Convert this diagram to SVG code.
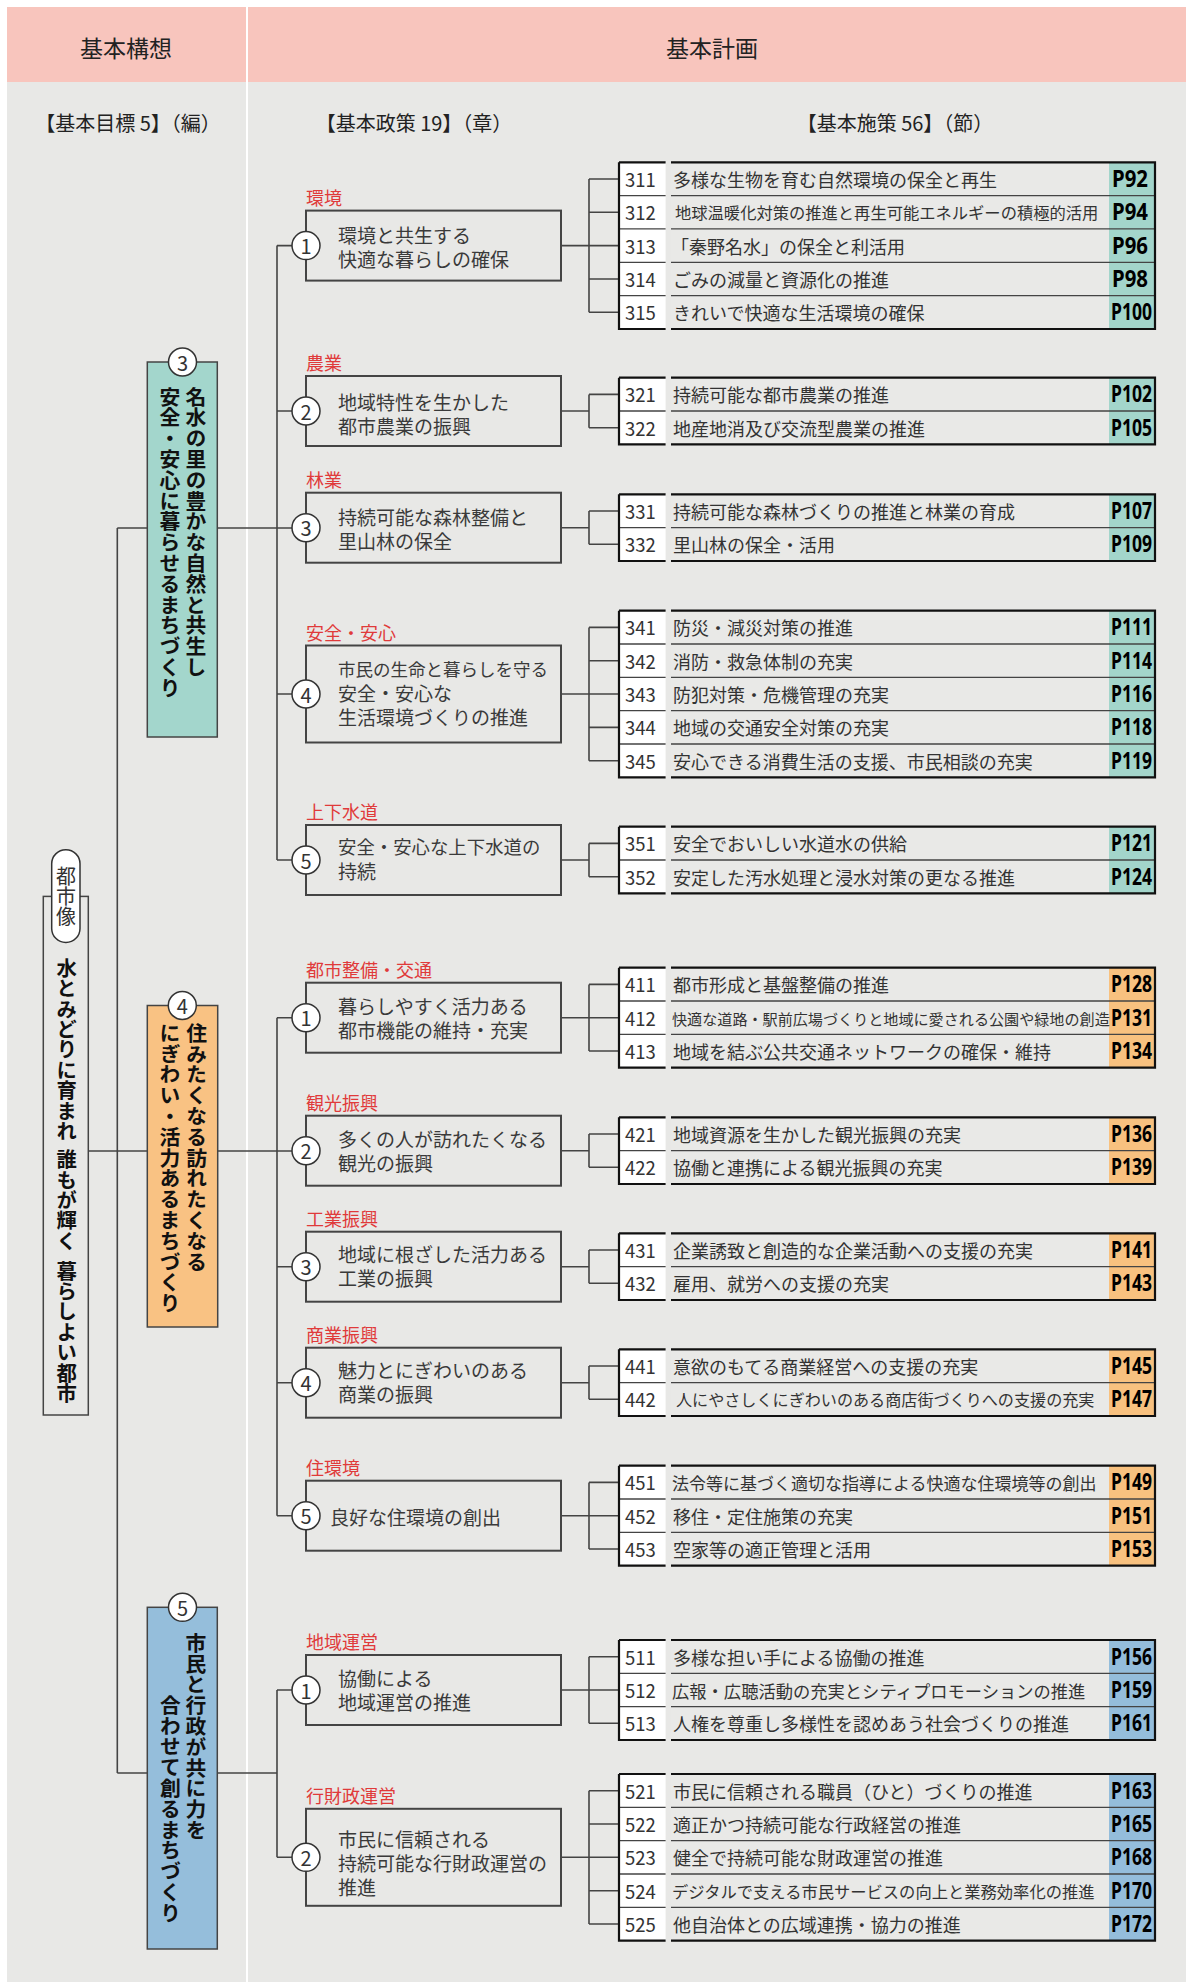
<svg xmlns="http://www.w3.org/2000/svg" width="1192" height="1982" viewBox="0 0 1192 1982">
<style>
text{font-family:'Noto Sans CJK JP','Noto Sans',sans-serif}
.hd{font-size:23px;fill:#222;text-anchor:middle;dominant-baseline:central}
.sh{font-size:20px;fill:#222;text-anchor:middle;dominant-baseline:central}
.ln{fill:none;stroke:#444;stroke-width:1.6}
.pb{fill:none;stroke:#444;stroke-width:2}
.ci{fill:#fff;stroke:#333;stroke-width:1.5}
.cn{font-size:20px;fill:#333;text-anchor:middle;dominant-baseline:central}
.cat{font-size:18px;fill:#e03a3a;dominant-baseline:central}
.pt{font-size:19px;fill:#3a3a3a;dominant-baseline:central}
.gb{stroke:#444;stroke-width:1.5}
.vt{writing-mode:vertical-rl;font-weight:bold;font-size:20.8px;fill:#111}
.nc{fill:#fff}
.tc{fill:#e9e9e7}
.pc3{fill:#a3d5cb}.pc4{fill:#f8c17f}.pc5{fill:#94bddb}
.n{font-size:18.5px;fill:#333;dominant-baseline:central}
.t{font-size:18px;fill:#333;dominant-baseline:central}
.p{font-family:'Noto Sans','DejaVu Sans',sans-serif;font-weight:bold;font-size:23px;fill:#000}
.sep{fill:none;stroke:#444;stroke-width:1.3}
.fr{fill:none;stroke:#111;stroke-width:2.2}
</style>
<rect x="0" y="0" width="1192" height="1982" fill="#fff"/>
<g id="background">
<rect x="7" y="7" width="239" height="75" fill="#f8c5bd"/>
<rect x="248" y="7" width="938" height="75" fill="#f8c5bd"/>
<rect x="7" y="82" width="239" height="1900" fill="#e8e8e6"/>
<rect x="248" y="82" width="938" height="1900" fill="#e8e8e6"/>
<text class="hd" x="126" y="47">基本構想</text>
<text class="hd" x="712" y="47">基本計画</text>
<text class="sh" x="128" y="122">【基本目標 5】（編）</text>
<text class="sh" x="414" y="122">【基本政策 19】（章）</text>
<text class="sh" x="895" y="122">【基本施策 56】（節）</text>
</g>
<g id="connectors" class="ln">
<path d="M117.3 528V1773M117.3 528H147.3M88.3 1151H147.3M117.3 1773H147.3M217.3 528H306M217.3 1151H306M217.3 1773H277"/>
<path d="M277 245.6V860M277 245.6H306M277 411H306M277 694H306M277 860H306"/>
<path d="M277 1017.7V1515.7M277 1017.7H306M277 1266.7H306M277 1382.7H306M277 1515.7H306"/>
<path d="M277 1690V1857.3M277 1690H306M277 1857.3H306"/>
<path d="M561 245.6H589M589 179V312.3M589 179H619M589 212.3H619M589 245.6H619M589 279H619M589 312.3H619"/>
<path d="M561 411H589M589 394.4V427.7M589 394.4H619M589 427.7H619"/>
<path d="M561 527.7H589M589 511V544.3M589 511H619M589 544.3H619"/>
<path d="M561 694H589M589 627.4V760.7M589 627.4H619M589 660.7H619M589 694H619M589 727.4H619M589 760.7H619"/>
<path d="M561 860H589M589 843.4V876.7M589 843.4H619M589 876.7H619"/>
<path d="M561 1017.7H589M589 984.4V1051M589 984.4H619M589 1017.7H619M589 1051H619"/>
<path d="M561 1150.7H589M589 1134V1167.3M589 1134H619M589 1167.3H619"/>
<path d="M561 1266.7H589M589 1250V1283.3M589 1250H619M589 1283.3H619"/>
<path d="M561 1382.7H589M589 1366V1399.3M589 1366H619M589 1399.3H619"/>
<path d="M561 1515.7H589M589 1482.4V1549M589 1482.4H619M589 1515.7H619M589 1549H619"/>
<path d="M561 1690H589M589 1656.7V1723.3M589 1656.7H619M589 1690H619M589 1723.3H619"/>
<path d="M561 1857.3H589M589 1790.7V1924M589 1790.7H619M589 1824H619M589 1857.3H619M589 1890.7H619M589 1924H619"/>
</g>
<g id="vision">
<rect x="43.3" y="896.4" width="45" height="518.6" fill="none" class="gb"/>
<rect x="51.7" y="849.8" width="28.3" height="92.6" rx="14" fill="#fff" stroke="#333" stroke-width="1.5"/>
<text x="65.9" y="866.5" style="writing-mode:vertical-rl;font-size:20px;fill:#333">都市像</text>
<text class="vt" style="font-size:20.4px"><tspan x="66.7" y="957.8">水とみどりに育まれ </tspan><tspan x="66.7" y="1149.5">誰もが輝く </tspan><tspan x="66.7" y="1260.5">暮らしよい都市</tspan></text>
</g>
<g id="goal3">
<rect x="147.3" y="362" width="70" height="375" fill="#a3d6cc" class="gb"/>
<ellipse class="ci" cx="182.5" cy="362" rx="14" ry="14"/>
<text class="cn" x="182.5" y="362">3</text>
<text class="vt" x="196" y="386.3">名水の里の豊かな自然と共生し</text>
<text class="vt" x="170" y="386.3">安全・安心に暮らせるまちづくり</text>
</g>
<g id="goal4">
<rect x="147.3" y="1005.5" width="70.4" height="321.5" fill="#f9c283" class="gb"/>
<ellipse class="ci" cx="182.3" cy="1005.5" rx="14" ry="14"/>
<text class="cn" x="182.3" y="1005.5">4</text>
<text class="vt" x="196.7" y="1022.6">住みたくなる訪れたくなる</text>
<text class="vt" x="170" y="1022.6">にぎわい・活力あるまちづくり</text>
</g>
<g id="goal5">
<rect x="147.3" y="1607.3" width="70" height="341.7" fill="#95bedb" class="gb"/>
<ellipse class="ci" cx="182.5" cy="1607.3" rx="14" ry="14"/>
<text class="cn" x="182.5" y="1607.3">5</text>
<text class="vt" x="196" y="1632.6">市民と行政が共に力を</text>
<text class="vt" x="170.3" y="1694.6">合わせて創るまちづくり</text>
</g>
<g id="p31"><text class="cat" x="306" y="196.6">環境</text><rect class="pb" x="306" y="210.6" width="255" height="70"/><circle class="ci" cx="306" cy="245.6" r="14"/><text class="cn" x="306" y="245.6">1</text><text class="pt" x="338" y="234.5">環境と共生する</text><text class="pt" x="338" y="258.5">快適な暮らしの確保</text></g>
<g id="p32"><text class="cat" x="306" y="362">農業</text><rect class="pb" x="306" y="376" width="255" height="70"/><circle class="ci" cx="306" cy="411" r="14"/><text class="cn" x="306" y="411">2</text><text class="pt" x="338" y="401">地域特性を生かした</text><text class="pt" x="338" y="425">都市農業の振興</text></g>
<g id="p33"><text class="cat" x="306" y="478.7">林業</text><rect class="pb" x="306" y="492.7" width="255" height="70"/><circle class="ci" cx="306" cy="527.7" r="14"/><text class="cn" x="306" y="527.7">3</text><text class="pt" x="338" y="516">持続可能な森林整備と</text><text class="pt" x="338" y="540">里山林の保全</text></g>
<g id="p34"><text class="cat" x="306" y="631.5">安全・安心</text><rect class="pb" x="306" y="645.5" width="255" height="97"/><circle class="ci" cx="306" cy="694" r="14"/><text class="cn" x="306" y="694">4</text><text class="pt" x="338" y="668" style="font-size:17.5px">市民の生命と暮らしを守る</text><text class="pt" x="338" y="692">安全・安心な</text><text class="pt" x="338" y="716">生活環境づくりの推進</text></g>
<g id="p35"><text class="cat" x="306" y="811">上下水道</text><rect class="pb" x="306" y="825" width="255" height="70"/><circle class="ci" cx="306" cy="860" r="14"/><text class="cn" x="306" y="860">5</text><text class="pt" x="338" y="846" style="font-size:18.4px">安全・安心な上下水道の</text><text class="pt" x="338" y="870">持続</text></g>
<g id="p41"><text class="cat" x="306" y="968.7">都市整備・交通</text><rect class="pb" x="306" y="982.7" width="255" height="70"/><circle class="ci" cx="306" cy="1017.7" r="14"/><text class="cn" x="306" y="1017.7">1</text><text class="pt" x="338" y="1005.7">暮らしやすく活力ある</text><text class="pt" x="338" y="1029.7">都市機能の維持・充実</text></g>
<g id="p42"><text class="cat" x="306" y="1101.7">観光振興</text><rect class="pb" x="306" y="1115.7" width="255" height="70"/><circle class="ci" cx="306" cy="1150.7" r="14"/><text class="cn" x="306" y="1150.7">2</text><text class="pt" x="338" y="1138">多くの人が訪れたくなる</text><text class="pt" x="338" y="1162">観光の振興</text></g>
<g id="p43"><text class="cat" x="306" y="1217.7">工業振興</text><rect class="pb" x="306" y="1231.7" width="255" height="70"/><circle class="ci" cx="306" cy="1266.7" r="14"/><text class="cn" x="306" y="1266.7">3</text><text class="pt" x="338" y="1253.5">地域に根ざした活力ある</text><text class="pt" x="338" y="1277.5">工業の振興</text></g>
<g id="p44"><text class="cat" x="306" y="1333.7">商業振興</text><rect class="pb" x="306" y="1347.7" width="255" height="70"/><circle class="ci" cx="306" cy="1382.7" r="14"/><text class="cn" x="306" y="1382.7">4</text><text class="pt" x="338" y="1369">魅力とにぎわいのある</text><text class="pt" x="338" y="1393">商業の振興</text></g>
<g id="p45"><text class="cat" x="306" y="1466.7">住環境</text><rect class="pb" x="306" y="1480.7" width="255" height="70"/><circle class="ci" cx="306" cy="1515.7" r="14"/><text class="cn" x="306" y="1515.7">5</text><text class="pt" x="330" y="1516">良好な住環境の創出</text></g>
<g id="p51"><text class="cat" x="306" y="1641">地域運営</text><rect class="pb" x="306" y="1655" width="255" height="70"/><circle class="ci" cx="306" cy="1690" r="14"/><text class="cn" x="306" y="1690">1</text><text class="pt" x="338" y="1677.7">協働による</text><text class="pt" x="338" y="1701.7">地域運営の推進</text></g>
<g id="p52"><text class="cat" x="306" y="1794.8">行財政運営</text><rect class="pb" x="306" y="1808.8" width="255" height="97"/><circle class="ci" cx="306" cy="1857.3" r="14"/><text class="cn" x="306" y="1857.3">2</text><text class="pt" x="338" y="1838">市民に信頼される</text><text class="pt" x="338" y="1862">持続可能な行財政運営の</text><text class="pt" x="338" y="1886">推進</text></g>

<g id="t31">
<g id="s311"><rect class="nc" x="619" y="162.3" width="46.6" height="33.4"/><rect class="tc" x="671" y="162.3" width="438" height="33.4"/><rect class="pc3" x="1109" y="162.3" width="46" height="33.4"/><text class="n" x="625" y="179">311</text><text class="t" x="673" y="179">多様な生物を育む自然環境の保全と再生</text><text class="p" x="1112" y="187" textLength="36" lengthAdjust="spacingAndGlyphs">P92</text></g>
<g id="s312"><rect class="nc" x="619" y="195.6" width="46.6" height="33.4"/><rect class="tc" x="671" y="195.6" width="438" height="33.4"/><rect class="pc3" x="1109" y="195.6" width="46" height="33.4"/><path class="sep" d="M619 195.6H665.6M671 195.6H1155"/><text class="n" x="625" y="212.3">312</text><text class="t" x="675" y="212.3" style="font-size:16.3px">地球温暖化対策の推進と再生可能エネルギーの積極的活用</text><text class="p" x="1112" y="220.3" textLength="36" lengthAdjust="spacingAndGlyphs">P94</text></g>
<g id="s313"><rect class="nc" x="619" y="228.9" width="46.6" height="33.4"/><rect class="tc" x="671" y="228.9" width="438" height="33.4"/><rect class="pc3" x="1109" y="228.9" width="46" height="33.4"/><path class="sep" d="M619 228.9H665.6M671 228.9H1155"/><text class="n" x="625" y="245.6">313</text><text class="t" x="671" y="245.6">「秦野名水」の保全と利活用</text><text class="p" x="1112" y="253.6" textLength="36" lengthAdjust="spacingAndGlyphs">P96</text></g>
<g id="s314"><rect class="nc" x="619" y="262.3" width="46.6" height="33.4"/><rect class="tc" x="671" y="262.3" width="438" height="33.4"/><rect class="pc3" x="1109" y="262.3" width="46" height="33.4"/><path class="sep" d="M619 262.3H665.6M671 262.3H1155"/><text class="n" x="625" y="279">314</text><text class="t" x="673" y="279">ごみの減量と資源化の推進</text><text class="p" x="1112" y="287" textLength="36" lengthAdjust="spacingAndGlyphs">P98</text></g>
<g id="s315"><rect class="nc" x="619" y="295.6" width="46.6" height="33.4"/><rect class="tc" x="671" y="295.6" width="438" height="33.4"/><rect class="pc3" x="1109" y="295.6" width="46" height="33.4"/><path class="sep" d="M619 295.6H665.6M671 295.6H1155"/><text class="n" x="625" y="312.3">315</text><text class="t" x="673" y="312.3">きれいで快適な生活環境の確保</text><text class="p" x="1111" y="320.3" textLength="41" lengthAdjust="spacingAndGlyphs">P100</text></g>
<path class="fr" d="M619 162.3H665.6M671 162.3H1155V329H671M665.6 329H619V162.3"/>
</g>

<g id="t32">
<g id="s321"><rect class="nc" x="619" y="377.7" width="46.6" height="33.4"/><rect class="tc" x="671" y="377.7" width="438" height="33.4"/><rect class="pc3" x="1109" y="377.7" width="46" height="33.4"/><text class="n" x="625" y="394.4">321</text><text class="t" x="673" y="394.4">持続可能な都市農業の推進</text><text class="p" x="1111" y="402.4" textLength="41" lengthAdjust="spacingAndGlyphs">P102</text></g>
<g id="s322"><rect class="nc" x="619" y="411" width="46.6" height="33.4"/><rect class="tc" x="671" y="411" width="438" height="33.4"/><rect class="pc3" x="1109" y="411" width="46" height="33.4"/><path class="sep" d="M619 411H665.6M671 411H1155"/><text class="n" x="625" y="427.7">322</text><text class="t" x="673" y="427.7">地産地消及び交流型農業の推進</text><text class="p" x="1111" y="435.7" textLength="41" lengthAdjust="spacingAndGlyphs">P105</text></g>
<path class="fr" d="M619 377.7H665.6M671 377.7H1155V444.3H671M665.6 444.3H619V377.7"/>
</g>

<g id="t33">
<g id="s331"><rect class="nc" x="619" y="494.3" width="46.6" height="33.4"/><rect class="tc" x="671" y="494.3" width="438" height="33.4"/><rect class="pc3" x="1109" y="494.3" width="46" height="33.4"/><text class="n" x="625" y="511">331</text><text class="t" x="673" y="511">持続可能な森林づくりの推進と林業の育成</text><text class="p" x="1111" y="519" textLength="41" lengthAdjust="spacingAndGlyphs">P107</text></g>
<g id="s332"><rect class="nc" x="619" y="527.6" width="46.6" height="33.4"/><rect class="tc" x="671" y="527.6" width="438" height="33.4"/><rect class="pc3" x="1109" y="527.6" width="46" height="33.4"/><path class="sep" d="M619 527.6H665.6M671 527.6H1155"/><text class="n" x="625" y="544.3">332</text><text class="t" x="673" y="544.3">里山林の保全・活用</text><text class="p" x="1111" y="552.3" textLength="41" lengthAdjust="spacingAndGlyphs">P109</text></g>
<path class="fr" d="M619 494.3H665.6M671 494.3H1155V561H671M665.6 561H619V494.3"/>
</g>

<g id="t34">
<g id="s341"><rect class="nc" x="619" y="610.7" width="46.6" height="33.4"/><rect class="tc" x="671" y="610.7" width="438" height="33.4"/><rect class="pc3" x="1109" y="610.7" width="46" height="33.4"/><text class="n" x="625" y="627.4">341</text><text class="t" x="673" y="627.4">防災・減災対策の推進</text><text class="p" x="1111" y="635.4" textLength="41" lengthAdjust="spacingAndGlyphs">P111</text></g>
<g id="s342"><rect class="nc" x="619" y="644" width="46.6" height="33.4"/><rect class="tc" x="671" y="644" width="438" height="33.4"/><rect class="pc3" x="1109" y="644" width="46" height="33.4"/><path class="sep" d="M619 644H665.6M671 644H1155"/><text class="n" x="625" y="660.7">342</text><text class="t" x="673" y="660.7">消防・救急体制の充実</text><text class="p" x="1111" y="668.7" textLength="41" lengthAdjust="spacingAndGlyphs">P114</text></g>
<g id="s343"><rect class="nc" x="619" y="677.3" width="46.6" height="33.4"/><rect class="tc" x="671" y="677.3" width="438" height="33.4"/><rect class="pc3" x="1109" y="677.3" width="46" height="33.4"/><path class="sep" d="M619 677.3H665.6M671 677.3H1155"/><text class="n" x="625" y="694">343</text><text class="t" x="673" y="694">防犯対策・危機管理の充実</text><text class="p" x="1111" y="702" textLength="41" lengthAdjust="spacingAndGlyphs">P116</text></g>
<g id="s344"><rect class="nc" x="619" y="710.7" width="46.6" height="33.4"/><rect class="tc" x="671" y="710.7" width="438" height="33.4"/><rect class="pc3" x="1109" y="710.7" width="46" height="33.4"/><path class="sep" d="M619 710.7H665.6M671 710.7H1155"/><text class="n" x="625" y="727.4">344</text><text class="t" x="673" y="727.4">地域の交通安全対策の充実</text><text class="p" x="1111" y="735.4" textLength="41" lengthAdjust="spacingAndGlyphs">P118</text></g>
<g id="s345"><rect class="nc" x="619" y="744" width="46.6" height="33.4"/><rect class="tc" x="671" y="744" width="438" height="33.4"/><rect class="pc3" x="1109" y="744" width="46" height="33.4"/><path class="sep" d="M619 744H665.6M671 744H1155"/><text class="n" x="625" y="760.7">345</text><text class="t" x="673" y="760.7">安心できる消費生活の支援、市民相談の充実</text><text class="p" x="1111" y="768.7" textLength="41" lengthAdjust="spacingAndGlyphs">P119</text></g>
<path class="fr" d="M619 610.7H665.6M671 610.7H1155V777.3H671M665.6 777.3H619V610.7"/>
</g>

<g id="t35">
<g id="s351"><rect class="nc" x="619" y="826.7" width="46.6" height="33.4"/><rect class="tc" x="671" y="826.7" width="438" height="33.4"/><rect class="pc3" x="1109" y="826.7" width="46" height="33.4"/><text class="n" x="625" y="843.4">351</text><text class="t" x="673" y="843.4">安全でおいしい水道水の供給</text><text class="p" x="1111" y="851.4" textLength="41" lengthAdjust="spacingAndGlyphs">P121</text></g>
<g id="s352"><rect class="nc" x="619" y="860" width="46.6" height="33.4"/><rect class="tc" x="671" y="860" width="438" height="33.4"/><rect class="pc3" x="1109" y="860" width="46" height="33.4"/><path class="sep" d="M619 860H665.6M671 860H1155"/><text class="n" x="625" y="876.7">352</text><text class="t" x="673" y="876.7">安定した汚水処理と浸水対策の更なる推進</text><text class="p" x="1111" y="884.7" textLength="41" lengthAdjust="spacingAndGlyphs">P124</text></g>
<path class="fr" d="M619 826.7H665.6M671 826.7H1155V893.3H671M665.6 893.3H619V826.7"/>
</g>

<g id="t41">
<g id="s411"><rect class="nc" x="619" y="967.7" width="46.6" height="33.4"/><rect class="tc" x="671" y="967.7" width="438" height="33.4"/><rect class="pc4" x="1109" y="967.7" width="46" height="33.4"/><text class="n" x="625" y="984.4">411</text><text class="t" x="673" y="984.4">都市形成と基盤整備の推進</text><text class="p" x="1111" y="992.4" textLength="41" lengthAdjust="spacingAndGlyphs">P128</text></g>
<g id="s412"><rect class="nc" x="619" y="1001" width="46.6" height="33.4"/><rect class="tc" x="671" y="1001" width="438" height="33.4"/><rect class="pc4" x="1109" y="1001" width="46" height="33.4"/><path class="sep" d="M619 1001H665.6M671 1001H1155"/><text class="n" x="625" y="1017.7">412</text><text class="t" x="672" y="1017.7" style="font-size:15.1px">快適な道路・駅前広場づくりと地域に愛される公園や緑地の創造</text><text class="p" x="1111" y="1025.7" textLength="41" lengthAdjust="spacingAndGlyphs">P131</text></g>
<g id="s413"><rect class="nc" x="619" y="1034.3" width="46.6" height="33.4"/><rect class="tc" x="671" y="1034.3" width="438" height="33.4"/><rect class="pc4" x="1109" y="1034.3" width="46" height="33.4"/><path class="sep" d="M619 1034.3H665.6M671 1034.3H1155"/><text class="n" x="625" y="1051">413</text><text class="t" x="673" y="1051">地域を結ぶ公共交通ネットワークの確保・維持</text><text class="p" x="1111" y="1059" textLength="41" lengthAdjust="spacingAndGlyphs">P134</text></g>
<path class="fr" d="M619 967.7H665.6M671 967.7H1155V1067.7H671M665.6 1067.7H619V967.7"/>
</g>

<g id="t42">
<g id="s421"><rect class="nc" x="619" y="1117.3" width="46.6" height="33.4"/><rect class="tc" x="671" y="1117.3" width="438" height="33.4"/><rect class="pc4" x="1109" y="1117.3" width="46" height="33.4"/><text class="n" x="625" y="1134">421</text><text class="t" x="673" y="1134">地域資源を生かした観光振興の充実</text><text class="p" x="1111" y="1142" textLength="41" lengthAdjust="spacingAndGlyphs">P136</text></g>
<g id="s422"><rect class="nc" x="619" y="1150.6" width="46.6" height="33.4"/><rect class="tc" x="671" y="1150.6" width="438" height="33.4"/><rect class="pc4" x="1109" y="1150.6" width="46" height="33.4"/><path class="sep" d="M619 1150.6H665.6M671 1150.6H1155"/><text class="n" x="625" y="1167.3">422</text><text class="t" x="673" y="1167.3">協働と連携による観光振興の充実</text><text class="p" x="1111" y="1175.3" textLength="41" lengthAdjust="spacingAndGlyphs">P139</text></g>
<path class="fr" d="M619 1117.3H665.6M671 1117.3H1155V1184H671M665.6 1184H619V1117.3"/>
</g>

<g id="t43">
<g id="s431"><rect class="nc" x="619" y="1233.3" width="46.6" height="33.4"/><rect class="tc" x="671" y="1233.3" width="438" height="33.4"/><rect class="pc4" x="1109" y="1233.3" width="46" height="33.4"/><text class="n" x="625" y="1250">431</text><text class="t" x="673" y="1250">企業誘致と創造的な企業活動への支援の充実</text><text class="p" x="1111" y="1258" textLength="41" lengthAdjust="spacingAndGlyphs">P141</text></g>
<g id="s432"><rect class="nc" x="619" y="1266.6" width="46.6" height="33.4"/><rect class="tc" x="671" y="1266.6" width="438" height="33.4"/><rect class="pc4" x="1109" y="1266.6" width="46" height="33.4"/><path class="sep" d="M619 1266.6H665.6M671 1266.6H1155"/><text class="n" x="625" y="1283.3">432</text><text class="t" x="673" y="1283.3">雇用、就労への支援の充実</text><text class="p" x="1111" y="1291.3" textLength="41" lengthAdjust="spacingAndGlyphs">P143</text></g>
<path class="fr" d="M619 1233.3H665.6M671 1233.3H1155V1300H671M665.6 1300H619V1233.3"/>
</g>

<g id="t44">
<g id="s441"><rect class="nc" x="619" y="1349.3" width="46.6" height="33.4"/><rect class="tc" x="671" y="1349.3" width="438" height="33.4"/><rect class="pc4" x="1109" y="1349.3" width="46" height="33.4"/><text class="n" x="625" y="1366">441</text><text class="t" x="673" y="1366">意欲のもてる商業経営への支援の充実</text><text class="p" x="1111" y="1374" textLength="41" lengthAdjust="spacingAndGlyphs">P145</text></g>
<g id="s442"><rect class="nc" x="619" y="1382.6" width="46.6" height="33.4"/><rect class="tc" x="671" y="1382.6" width="438" height="33.4"/><rect class="pc4" x="1109" y="1382.6" width="46" height="33.4"/><path class="sep" d="M619 1382.6H665.6M671 1382.6H1155"/><text class="n" x="625" y="1399.3">442</text><text class="t" x="676" y="1399.3" style="font-size:16.1px">人にやさしくにぎわいのある商店街づくりへの支援の充実</text><text class="p" x="1111" y="1407.3" textLength="41" lengthAdjust="spacingAndGlyphs">P147</text></g>
<path class="fr" d="M619 1349.3H665.6M671 1349.3H1155V1416H671M665.6 1416H619V1349.3"/>
</g>

<g id="t45">
<g id="s451"><rect class="nc" x="619" y="1465.7" width="46.6" height="33.4"/><rect class="tc" x="671" y="1465.7" width="438" height="33.4"/><rect class="pc4" x="1109" y="1465.7" width="46" height="33.4"/><text class="n" x="625" y="1482.4">451</text><text class="t" x="672" y="1482.4" style="font-size:17px">法令等に基づく適切な指導による快適な住環境等の創出</text><text class="p" x="1111" y="1490.4" textLength="41" lengthAdjust="spacingAndGlyphs">P149</text></g>
<g id="s452"><rect class="nc" x="619" y="1499" width="46.6" height="33.4"/><rect class="tc" x="671" y="1499" width="438" height="33.4"/><rect class="pc4" x="1109" y="1499" width="46" height="33.4"/><path class="sep" d="M619 1499H665.6M671 1499H1155"/><text class="n" x="625" y="1515.7">452</text><text class="t" x="673" y="1515.7">移住・定住施策の充実</text><text class="p" x="1111" y="1523.7" textLength="41" lengthAdjust="spacingAndGlyphs">P151</text></g>
<g id="s453"><rect class="nc" x="619" y="1532.3" width="46.6" height="33.4"/><rect class="tc" x="671" y="1532.3" width="438" height="33.4"/><rect class="pc4" x="1109" y="1532.3" width="46" height="33.4"/><path class="sep" d="M619 1532.3H665.6M671 1532.3H1155"/><text class="n" x="625" y="1549">453</text><text class="t" x="673" y="1549">空家等の適正管理と活用</text><text class="p" x="1111" y="1557" textLength="41" lengthAdjust="spacingAndGlyphs">P153</text></g>
<path class="fr" d="M619 1465.7H665.6M671 1465.7H1155V1565.7H671M665.6 1565.7H619V1465.7"/>
</g>

<g id="t51">
<g id="s511"><rect class="nc" x="619" y="1640" width="46.6" height="33.4"/><rect class="tc" x="671" y="1640" width="438" height="33.4"/><rect class="pc5" x="1109" y="1640" width="46" height="33.4"/><text class="n" x="625" y="1656.7">511</text><text class="t" x="673" y="1656.7">多様な担い手による協働の推進</text><text class="p" x="1111" y="1664.7" textLength="41" lengthAdjust="spacingAndGlyphs">P156</text></g>
<g id="s512"><rect class="nc" x="619" y="1673.3" width="46.6" height="33.4"/><rect class="tc" x="671" y="1673.3" width="438" height="33.4"/><rect class="pc5" x="1109" y="1673.3" width="46" height="33.4"/><path class="sep" d="M619 1673.3H665.6M671 1673.3H1155"/><text class="n" x="625" y="1690">512</text><text class="t" x="672" y="1690" style="font-size:17.3px">広報・広聴活動の充実とシティプロモーションの推進</text><text class="p" x="1111" y="1698" textLength="41" lengthAdjust="spacingAndGlyphs">P159</text></g>
<g id="s513"><rect class="nc" x="619" y="1706.6" width="46.6" height="33.4"/><rect class="tc" x="671" y="1706.6" width="438" height="33.4"/><rect class="pc5" x="1109" y="1706.6" width="46" height="33.4"/><path class="sep" d="M619 1706.6H665.6M671 1706.6H1155"/><text class="n" x="625" y="1723.3">513</text><text class="t" x="673" y="1723.3">人権を尊重し多様性を認めあう社会づくりの推進</text><text class="p" x="1111" y="1731.3" textLength="41" lengthAdjust="spacingAndGlyphs">P161</text></g>
<path class="fr" d="M619 1640H665.6M671 1640H1155V1740H671M665.6 1740H619V1640"/>
</g>

<g id="t52">
<g id="s521"><rect class="nc" x="619" y="1774" width="46.6" height="33.4"/><rect class="tc" x="671" y="1774" width="438" height="33.4"/><rect class="pc5" x="1109" y="1774" width="46" height="33.4"/><text class="n" x="625" y="1790.7">521</text><text class="t" x="673" y="1790.7">市民に信頼される職員（ひと）づくりの推進</text><text class="p" x="1111" y="1798.7" textLength="41" lengthAdjust="spacingAndGlyphs">P163</text></g>
<g id="s522"><rect class="nc" x="619" y="1807.3" width="46.6" height="33.4"/><rect class="tc" x="671" y="1807.3" width="438" height="33.4"/><rect class="pc5" x="1109" y="1807.3" width="46" height="33.4"/><path class="sep" d="M619 1807.3H665.6M671 1807.3H1155"/><text class="n" x="625" y="1824">522</text><text class="t" x="673" y="1824">適正かつ持続可能な行政経営の推進</text><text class="p" x="1111" y="1832" textLength="41" lengthAdjust="spacingAndGlyphs">P165</text></g>
<g id="s523"><rect class="nc" x="619" y="1840.6" width="46.6" height="33.4"/><rect class="tc" x="671" y="1840.6" width="438" height="33.4"/><rect class="pc5" x="1109" y="1840.6" width="46" height="33.4"/><path class="sep" d="M619 1840.6H665.6M671 1840.6H1155"/><text class="n" x="625" y="1857.3">523</text><text class="t" x="673" y="1857.3">健全で持続可能な財政運営の推進</text><text class="p" x="1111" y="1865.3" textLength="41" lengthAdjust="spacingAndGlyphs">P168</text></g>
<g id="s524"><rect class="nc" x="619" y="1874" width="46.6" height="33.4"/><rect class="tc" x="671" y="1874" width="438" height="33.4"/><rect class="pc5" x="1109" y="1874" width="46" height="33.4"/><path class="sep" d="M619 1874H665.6M671 1874H1155"/><text class="n" x="625" y="1890.7">524</text><text class="t" x="672" y="1890.7" style="font-size:16.3px">デジタルで支える市民サービスの向上と業務効率化の推進</text><text class="p" x="1111" y="1898.7" textLength="41" lengthAdjust="spacingAndGlyphs">P170</text></g>
<g id="s525"><rect class="nc" x="619" y="1907.3" width="46.6" height="33.4"/><rect class="tc" x="671" y="1907.3" width="438" height="33.4"/><rect class="pc5" x="1109" y="1907.3" width="46" height="33.4"/><path class="sep" d="M619 1907.3H665.6M671 1907.3H1155"/><text class="n" x="625" y="1924">525</text><text class="t" x="673" y="1924">他自治体との広域連携・協力の推進</text><text class="p" x="1111" y="1932" textLength="41" lengthAdjust="spacingAndGlyphs">P172</text></g>
<path class="fr" d="M619 1774H665.6M671 1774H1155V1940.7H671M665.6 1940.7H619V1774"/>
</g>
</svg>
